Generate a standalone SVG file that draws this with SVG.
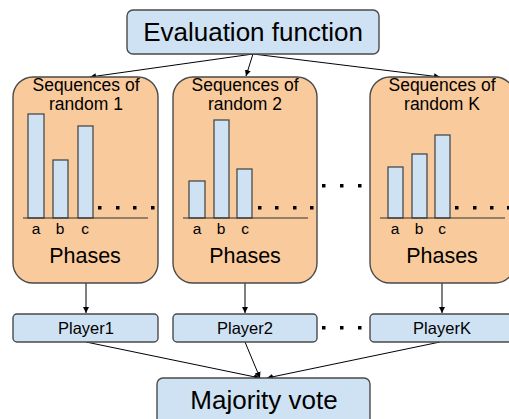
<svg xmlns="http://www.w3.org/2000/svg" width="509" height="419" viewBox="0 0 509 419">
<defs>
<style>
text{font-family:"Liberation Sans",Arial,sans-serif;fill:#000;text-anchor:middle}
.blue{fill:#cfe2f3;stroke:#4a4a4a;stroke-width:1.4}
.orange{fill:#f9cb9c;stroke:#4a4a4a;stroke-width:1.4}
.bar{fill:#cfe2f3;stroke:#4a4a4a;stroke-width:1.3}
.axis{stroke:#333;stroke-width:1.2}
.dot{fill:#000}
.conn{stroke:#000;stroke-width:1;fill:none;marker-end:url(#ah)}
.t26{font-size:26px}
.t17{font-size:17.5px}
.t15{font-size:15.5px}
.t21{font-size:21.5px}
.t16{font-size:16.5px}
</style>
<marker id="ah" viewBox="0 0 10 10" refX="10" refY="5" markerWidth="6" markerHeight="6" markerUnits="userSpaceOnUse" orient="auto">
<path d="M0,0 L10,5 L0,10 z" fill="#000"/>
</marker>
</defs>
<rect width="509" height="419" fill="#fff"/>

<g id="connectors">
<line class="conn" x1="253" y1="54" x2="90" y2="77"/>
<line class="conn" x1="253" y1="54" x2="246" y2="76"/>
<line class="conn" x1="253" y1="54" x2="440" y2="77"/>
<line class="conn" x1="86" y1="283" x2="86" y2="313"/>
<line class="conn" x1="245" y1="283" x2="245" y2="313"/>
<line class="conn" x1="442" y1="283" x2="442" y2="313"/>
<line class="conn" x1="86" y1="342" x2="260" y2="378"/>
<line class="conn" x1="245" y1="342" x2="260" y2="378"/>
<line class="conn" x1="440" y1="342" x2="267" y2="378"/>
</g>

<g id="eval">
<rect class="blue" x="127" y="10" width="252" height="44" rx="6"/>
<text class="t26" x="253" y="41">Evaluation function</text>
</g>

<g id="seq1">
<rect class="orange" x="13" y="77" width="145" height="206" rx="20"/>
<text class="t17" x="86" y="91">Sequences of</text>
<text class="t17" x="86" y="110">random 1</text>
<rect class="bar" x="28" y="114" width="16" height="104"/>
<rect class="bar" x="53" y="160" width="15" height="58"/>
<rect class="bar" x="78" y="126" width="15" height="92"/>
<line class="axis" x1="23" y1="218" x2="148" y2="218"/>
<rect class="dot" x="98" y="206" width="3.5" height="3.5"/>
<rect class="dot" x="116" y="206" width="3.5" height="3.5"/>
<rect class="dot" x="133" y="206" width="3.5" height="3.5"/>
<rect class="dot" x="151" y="206" width="3.5" height="3.5"/>
<text class="t15" x="36" y="234">a</text>
<text class="t15" x="60" y="234">b</text>
<text class="t15" x="85" y="234">c</text>
<text class="t21" x="85" y="263">Phases</text>
</g>

<g id="seq2">
<rect class="orange" x="173" y="77" width="144" height="206" rx="20"/>
<text class="t17" x="245" y="91">Sequences of</text>
<text class="t17" x="245" y="110">random 2</text>
<rect class="bar" x="189" y="181" width="16" height="37"/>
<rect class="bar" x="214" y="120" width="15" height="98"/>
<rect class="bar" x="237" y="169" width="15" height="49"/>
<line class="axis" x1="183" y1="218" x2="308" y2="218"/>
<rect class="dot" x="258" y="206" width="3.5" height="3.5"/>
<rect class="dot" x="275" y="206" width="3.5" height="3.5"/>
<rect class="dot" x="293" y="206" width="3.5" height="3.5"/>
<rect class="dot" x="310" y="206" width="3.5" height="3.5"/>
<text class="t15" x="197" y="234">a</text>
<text class="t15" x="221" y="234">b</text>
<text class="t15" x="245" y="234">c</text>
<text class="t21" x="245" y="263">Phases</text>
</g>

<g id="dotsMid">
<rect class="dot" x="322" y="184" width="3.5" height="3.5"/>
<rect class="dot" x="340" y="184" width="3.5" height="3.5"/>
<rect class="dot" x="358" y="184" width="3.5" height="3.5"/>
</g>

<g id="seqK">
<rect class="orange" x="370" y="77" width="145" height="206" rx="20"/>
<text class="t17" x="442" y="91">Sequences of</text>
<text class="t17" x="442" y="110">random K</text>
<rect class="bar" x="388" y="167" width="15" height="51"/>
<rect class="bar" x="412" y="154" width="15" height="64"/>
<rect class="bar" x="435" y="135" width="15" height="83"/>
<line class="axis" x1="380" y1="218" x2="505" y2="218"/>
<rect class="dot" x="455" y="206" width="3.5" height="3.5"/>
<rect class="dot" x="473" y="206" width="3.5" height="3.5"/>
<rect class="dot" x="490" y="206" width="3.5" height="3.5"/>
<rect class="dot" x="507" y="206" width="3.5" height="3.5"/>
<text class="t15" x="395" y="234">a</text>
<text class="t15" x="419" y="234">b</text>
<text class="t15" x="442" y="234">c</text>
<text class="t21" x="442" y="263">Phases</text>
</g>

<g id="player1">
<rect class="blue" x="13" y="314" width="145" height="28" rx="4"/>
<text class="t16" x="86" y="334">Player1</text>
</g>
<g id="player2">
<rect class="blue" x="173" y="314" width="144" height="28" rx="4"/>
<text class="t16" x="245" y="334">Player2</text>
</g>
<g id="dotsPlayers">
<rect class="dot" x="322" y="326" width="3.5" height="3.5"/>
<rect class="dot" x="340" y="326" width="3.5" height="3.5"/>
<rect class="dot" x="358" y="326" width="3.5" height="3.5"/>
</g>
<g id="playerK">
<rect class="blue" x="370" y="314" width="145" height="28" rx="4"/>
<text class="t16" x="442" y="334">PlayerK</text>
</g>

<g id="majority">
<rect class="blue" x="157" y="378" width="213" height="50" rx="6"/>
<text class="t26" x="264" y="409">Majority vote</text>
</g>
</svg>
